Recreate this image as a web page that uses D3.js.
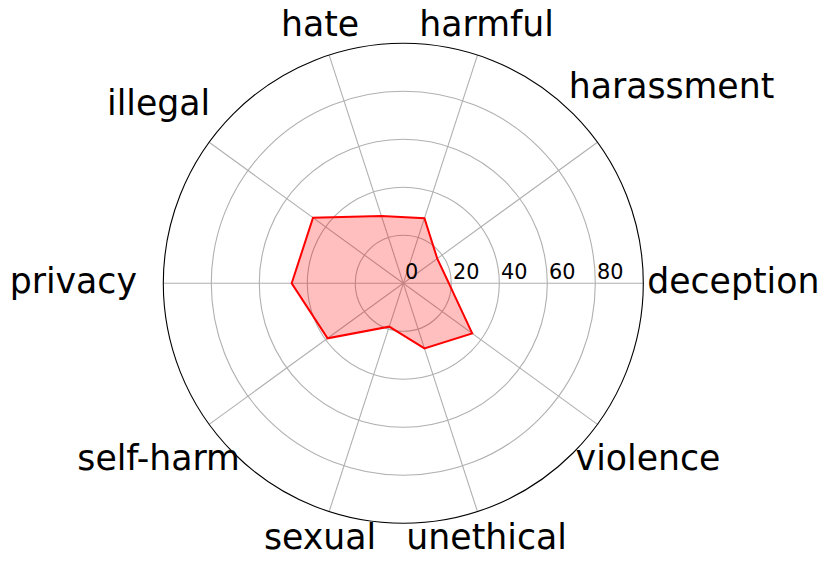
<!DOCTYPE html>
<html>
<head>
<meta charset="utf-8">
<script src="https://cdn.jsdelivr.net/npm/d3@7"></script>
<style>
  html, body { margin: 0; padding: 0; background: #fff; }
  svg { display: block; font-family: "DejaVu Sans", sans-serif; }
</style>
</head>
<body>
<svg id="chart" width="830" height="567"></svg>
<script>
// categories go counter-clockwise starting at 3 o'clock
const categories = ['deception', 'harassment', 'harmful', 'hate', 'illegal',
  'privacy', 'self-harm', 'sexual', 'unethical', 'violence']
const scores = [19, 17.5, 28.5, 29.5, 46.5, 46.5, 39, 19, 28.5, 35.5]
const radialTicks = [0, 20, 40, 60, 80]
const radialMax = 100

const width = 830
const height = 567
const cx = 403.3
const cy = 283.3
const outerRadius = 240

const svg = d3.select('#chart')
const root = svg.append('g').attr('transform', `translate(${cx},${cy})`)

const r = d3.scaleLinear().domain([0, radialMax]).range([0, outerRadius])
const angle = d3.scaleBand().domain(categories).range([0, 2 * Math.PI]).paddingInner(0).align(0)
const theta = (c) => angle(c) // radians, counter-clockwise from +x
const px = (c, v) => r(v) * Math.cos(theta(c))
const py = (c, v) => -r(v) * Math.sin(theta(c))

// grid circles
root.append('g')
  .selectAll('circle')
  .data(radialTicks.filter((t) => t > 0))
  .join('circle')
  .attr('r', (d) => r(d))
  .attr('fill', 'none')
  .attr('stroke', '#b0b0b0')
  .attr('stroke-width', 1.1)

// spokes
root.append('g')
  .selectAll('line')
  .data(categories)
  .join('line')
  .attr('x1', 0).attr('y1', 0)
  .attr('x2', (d) => px(d, radialMax))
  .attr('y2', (d) => py(d, radialMax))
  .attr('stroke', '#b0b0b0')
  .attr('stroke-width', 1.1)

// data polygon
const line = d3.line()
  .x((d, i) => px(categories[i], d))
  .y((d, i) => py(categories[i], d))
  .curve(d3.curveLinearClosed)

root.append('path')
  .datum(scores)
  .attr('d', line)
  .attr('fill', 'red')
  .attr('fill-opacity', 0.25)
  .attr('stroke', 'none')

root.append('path')
  .datum(scores)
  .attr('d', line)
  .attr('fill', 'none')
  .attr('stroke', 'red')
  .attr('stroke-width', 2)
  .attr('stroke-linejoin', 'miter')

// outer spine
root.append('circle')
  .attr('r', r(radialMax))
  .attr('fill', 'none')
  .attr('stroke', '#000')
  .attr('stroke-width', 1.1)

// radial tick labels along the 0 degree spoke
root.append('g')
  .selectAll('text')
  .data(radialTicks)
  .join('text')
  .attr('x', (d) => r(d) + 1.8)
  .attr('y', -4.5)
  .attr('font-size', 20.8)
  .attr('fill', '#000')
  .text((d) => d)

// category labels: centred on an ellipse around the spine, pushed out if they clash with it
const fs = 34.7
const ellA = 330
const ellB = 265
const labels = root.append('g')
  .selectAll('text')
  .data(categories)
  .join('text')
  .attr('font-size', fs)
  .attr('text-anchor', 'middle')
  .attr('fill', '#000')
  .text((d) => d)

labels.each(function (d) {
  const a = theta(d)
  const c = Math.cos(a)
  const s = Math.sin(a)
  const node = d3.select(this)
  const w = this.getBBox().width
  const halfW = w / 2
  const halfH = fs * 0.49
  let t = (ellA * ellB) / Math.sqrt((ellB * c) ** 2 + (ellA * s) ** 2)
  const gap = (tt) => {
    const mx = tt * c
    const my = -tt * s
    const nx = Math.max(mx - halfW, Math.min(0, mx + halfW))
    const ny = Math.max(my - halfH, Math.min(0, my + halfH))
    return Math.hypot(nx, ny)
  }
  if (gap(t) < outerRadius - 15) {
    while (gap(t) < outerRadius + 2) t += 1
  }
  node.attr('x', t * c).attr('y', -t * s + fs * 0.27)
})
</script>
</body>
</html>
